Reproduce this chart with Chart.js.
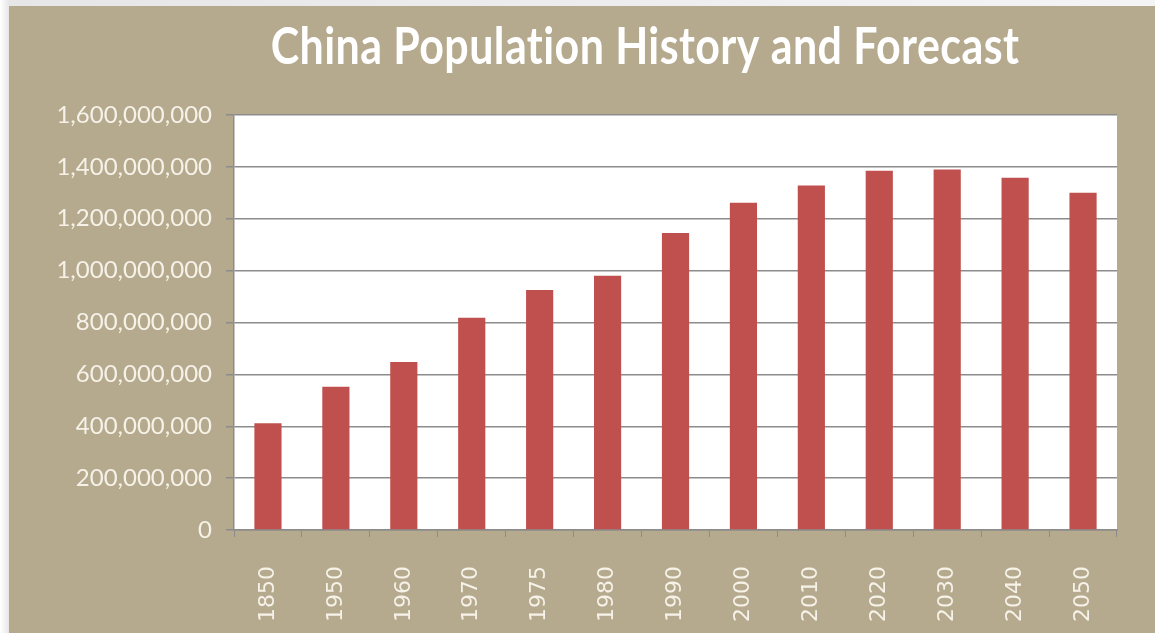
<!DOCTYPE html>
<html>
<head>
<meta charset="utf-8">
<script src="https://cdn.jsdelivr.net/npm/chart.js@4.4.1/dist/chart.umd.min.js"></script>
<style>
  html, body { margin: 0; padding: 0; }
  body { width: 1155px; height: 633px; background: linear-gradient(to right, #ffffff, #e6e6e6 9px, #f4f4f4); overflow: hidden; }
  #wrap { position: absolute; left: 9px; top: 6px; width: 1146px; height: 627px; background: #b5a98e; }
</style>
</head>
<body>
<div id="wrap"><canvas id="popChart" width="1146" height="627"></canvas></div>
<script>
const TITLE = 'China Population History and Forecast';
const years = ['1850', '1950', '1960', '1970', '1975', '1980', '1990', '2000', '2010', '2020', '2030', '2040', '2050'];
const population = [412000000, 552000000, 648000000, 818000000, 925000000, 980000000, 1145000000, 1262000000, 1328000000, 1385000000, 1390000000, 1358000000, 1300000000];
const yTicks = { min: 0, max: 1600000000, step: 200000000 };

const labelColor = '#f6f2e8';
const gridColor = '#8c8c8c';

// white plot area + title drawn in the tan header
const plotBackground = {
  id: 'plotBackground',
  beforeDraw(chart) {
    const { ctx, chartArea } = chart;
    ctx.save();
    ctx.fillStyle = '#ffffff';
    ctx.fillRect(chartArea.left, chartArea.top, chartArea.right - chartArea.left, chartArea.bottom - chartArea.top);
    ctx.restore();
  },
  afterDraw(chart) {
    const ctx = chart.ctx;
    ctx.save();
    ctx.translate(636, 41);
    ctx.scale(1, 1.2);
    ctx.font = 'bold 43px Lato';
    ctx.letterSpacing = '0.4px';
    ctx.fillStyle = '#ffffff';
    ctx.textAlign = 'center';
    ctx.textBaseline = 'middle';
    ctx.fillText(TITLE, 0, 0);
    ctx.restore();
  }
};

new Chart(document.getElementById('popChart'), {
  type: 'bar',
  data: {
    labels: years,
    datasets: [{
      label: 'Population',
      data: population,
      backgroundColor: '#c0504d',
      barPercentage: 0.4,
      categoryPercentage: 1.0
    }]
  },
  options: {
    responsive: false,
    animation: false,
    layout: { padding: { top: 109, right: 38, left: 0, bottom: 0 } },
    plugins: {
      legend: { display: false },
      tooltip: { enabled: false },
      title: { display: false }
    },
    scales: {
      x: {
        afterFit(scale) { scale.height = 103; },
        grid: { display: true, drawOnChartArea: false, drawTicks: true, tickLength: 7, color: gridColor, offset: true },
        border: { display: true, color: gridColor, width: 1.5 },
        ticks: {
          color: labelColor,
          font: { family: 'DejaVu Sans', size: 22 },
          minRotation: 90,
          maxRotation: 90,
          padding: 29,
          autoSkip: false
        }
      },
      y: {
        min: yTicks.min,
        max: yTicks.max,
        afterFit(scale) { scale.width = 225; },
        grid: { color: gridColor, lineWidth: 1.5, tickLength: 8, drawTicks: true },
        border: { display: true, color: gridColor, width: 1.5 },
        ticks: {
          stepSize: yTicks.step,
          color: labelColor,
          font: { family: 'Lato', size: 24 },
          padding: 14,
          callback: v => v.toLocaleString('en-US')
        }
      }
    }
  },
  plugins: [plotBackground]
});
</script>
</body>
</html>
